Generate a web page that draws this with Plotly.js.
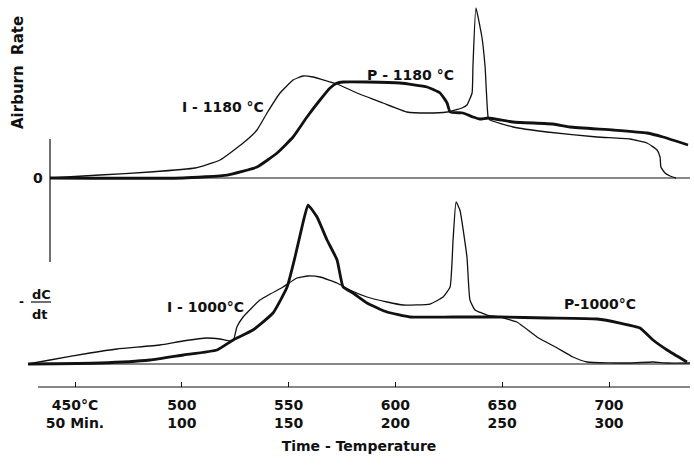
<!DOCTYPE html>
<html>
<head>
<meta charset="utf-8">
<script src="https://cdn.plot.ly/plotly-3.0.1.min.js"></script>
<style>html,body{margin:0;padding:0;background:#fff;}#chart{width:694px;height:465px;}</style>
</head>
<body>
<div id="chart"></div>
<script>
// Temperature (deg C) axis ticks and time labels
const tickTemps = [450, 500, 550, 600, 650, 700];
const tempLabels = ['450°C', '500', '550', '600', '650', '700'];
const timeLabels = ['50 Min.', '100', '150', '200', '250', '300'];

// Top panel: Airburn Rate (arbitrary units)
const iTopTemp = [438.3, 461.7, 485.1, 506.2, 517.9, 528.7, 535.2, 539.9, 546.0, 552.1, 556.7, 561.4, 568.0, 572.7, 582.0, 594.2, 605.4, 614.8, 624.2, 631.2, 633.5, 635.9, 636.3, 637.7, 640.5, 642.0, 643.4, 644.3, 655.1, 671.0, 694.4, 709.8, 717.8, 722.5, 723.9, 724.3, 726.2, 728.6, 731.4];
const iTopRate = [0, 3, 6, 10, 18, 35, 48, 65, 85, 98, 102, 101, 97, 94, 85, 75, 66, 65, 66, 70, 73, 85, 111, 170, 141, 111, 61, 58, 51, 46, 41, 39, 35, 28, 21, 11, 5, 2, 0];
const pTopTemp = [438.3, 500.6, 521.2, 535.2, 544.6, 552.1, 558.6, 564.7, 569.4, 572.7, 575.5, 586.7, 602.2, 614.8, 620.9, 624.2, 625.6, 631.6, 636.3, 639.6, 643.4, 655.1, 673.8, 681.7, 701.9, 717.8, 725.3, 737.0];
const pTopRate = [0, 0, 3, 11, 25, 41, 61, 78, 90, 95, 96, 96, 95, 91, 85, 75, 66, 65, 61, 59, 60, 56, 54, 51, 48, 45, 41, 33];

// Bottom panel: -dC/dt (arbitrary units)
const iBotTemp = [428.0, 438.3, 457.0, 469.7, 489.8, 500.6, 511.8, 517.9, 524.0, 525.8, 528.7, 536.6, 547.4, 553.9, 559.1, 564.7, 572.7, 578.7, 586.7, 596.1, 603.6, 616.2, 622.3, 625.6, 627.0, 628.4, 630.2, 633.5, 634.9, 637.3, 642.9, 649.0, 656.9, 666.3, 675.7, 683.1, 689.7, 709.8, 720.6, 727.2, 737.9];
const iBotRate = [0, 4, 11, 15, 19, 23, 26, 25, 23, 37, 47, 64, 77, 86, 88, 87, 81, 74, 67, 62, 59, 60, 67, 77, 124, 162, 154, 107, 64, 54, 49, 47, 42, 27, 16, 7, 2, 1, 2, 1, 1];
const pBotTemp = [428.0, 461.7, 485.1, 500.6, 516.5, 524.0, 533.3, 542.7, 549.3, 553.0, 556.7, 559.1, 563.3, 568.0, 572.7, 575.5, 580.1, 586.7, 596.1, 606.8, 627.0, 649.0, 671.0, 694.4, 705.1, 714.5, 720.6, 727.2, 736.5];
const pBotRate = [0, 1, 4, 9, 14, 24, 34, 51, 77, 107, 141, 159, 147, 124, 104, 77, 71, 61, 52, 47, 47, 47, 46, 45, 41, 36, 24, 14, 2];

const F = 'DejaVu Sans';
const ink = '#111';
const thin = {color: ink, width: 1.3, shape: 'spline', smoothing: 0.4};
const thick = {color: ink, width: 2.8, shape: 'spline', smoothing: 0.4};

const traces = [
  {x: iTopTemp, y: iTopRate, xaxis: 'x', yaxis: 'y', mode: 'lines', line: thin, name: 'I-1180 °C'},
  {x: pTopTemp, y: pTopRate, xaxis: 'x', yaxis: 'y', mode: 'lines', line: thick, name: 'P-1180 °C'},
  {x: iBotTemp, y: iBotRate, xaxis: 'x', yaxis: 'y2', mode: 'lines', line: thin, name: 'I-1000°C'},
  {x: pBotTemp, y: pBotRate, xaxis: 'x', yaxis: 'y2', mode: 'lines', line: thick, name: 'P-1000°C'}
];

const lbl = (size) => ({family: F, size: size, color: ink, weight: 'bold'});

const layout = {
  width: 694, height: 465,
  margin: {l: 26, r: 2, t: 0, b: 78},
  paper_bgcolor: '#fff', plot_bgcolor: '#fff',
  showlegend: false,
  xaxis: {
    range: [427.06, 738.86], anchor: 'free', position: 0,
    tickvals: tickTemps,
    ticktext: tempLabels.map((t, i) => t + '<br>' + timeLabels[i]),
    ticks: 'inside', ticklen: 5, tickwidth: 1, tickcolor: ink,
    showline: false, showgrid: false, zeroline: false,
    tickfont: lbl(14), ticklabelstandoff: 8,
    title: {text: 'Time - Temperature', font: lbl(14), standoff: 10}
  },
  yaxis: {domain: [0.5297, 1], range: [-4, 178], visible: false, anchor: 'x'},
  yaxis2: {domain: [0.0491, 0.509], range: [-4, 174], visible: false, anchor: 'x'},
  shapes: [
    {type: 'line', layer: 'below', xref: 'x', yref: 'paper', x0: 432.7, x1: 737.9, y0: 0, y1: 0, line: {color: ink, width: 1.2}},
    {type: 'line', layer: 'below', xref: 'x', yref: 'y', x0: 438.3, x1: 737.9, y0: 0, y1: 0, line: {color: ink, width: 1.2}},
    {type: 'line', layer: 'below', xref: 'x', yref: 'y2', x0: 428.0, x1: 737.9, y0: 0, y1: 0, line: {color: ink, width: 1.2}},
    {type: 'line', layer: 'below', xref: 'x', yref: 'paper', x0: 438.3, x1: 438.3, y0: 0.323, y1: 0.641, line: {color: ink, width: 1.2}},
    {type: 'line', xref: 'paper', yref: 'paper', x0: (31 - 26) / 666, x1: (51 - 26) / 666, y0: (387 - 302) / 387, y1: (387 - 302) / 387, line: {color: ink, width: 1.2}}
  ],
  annotations: [
    {text: 'Airburn  Rate', xref: 'paper', yref: 'paper', x: (18 - 26) / 666, y: (387 - 73) / 387, textangle: -90, showarrow: false, font: lbl(15), xanchor: 'center', yanchor: 'middle'},
    {text: '0', xref: 'paper', yref: 'paper', x: (38 - 26) / 666, y: (387 - 178) / 387, showarrow: false, font: lbl(14), xanchor: 'center', yanchor: 'middle'},
    {text: '-', xref: 'paper', yref: 'paper', x: (21 - 26) / 666, y: (387 - 302) / 387, showarrow: false, font: lbl(12), xanchor: 'center', yanchor: 'middle'},
    {text: 'dC', xref: 'paper', yref: 'paper', x: (41 - 26) / 666, y: (387 - 294) / 387, showarrow: false, font: lbl(13), xanchor: 'center', yanchor: 'middle'},
    {text: 'dt', xref: 'paper', yref: 'paper', x: (40 - 26) / 666, y: (387 - 314) / 387, showarrow: false, font: lbl(13), xanchor: 'center', yanchor: 'middle'},
    {text: 'I - 1180 °C', xref: 'paper', yref: 'paper', x: (223 - 26) / 666, y: (387 - 107) / 387, showarrow: false, font: lbl(14), xanchor: 'center', yanchor: 'middle'},
    {text: 'P - 1180 °C', xref: 'paper', yref: 'paper', x: (410 - 26) / 666, y: (387 - 75) / 387, showarrow: false, font: lbl(14), xanchor: 'center', yanchor: 'middle'},
    {text: 'I - 1000°C', xref: 'paper', yref: 'paper', x: (205 - 26) / 666, y: (387 - 307) / 387, showarrow: false, font: lbl(14), xanchor: 'center', yanchor: 'middle'},
    {text: 'P-1000°C', xref: 'paper', yref: 'paper', x: (600 - 26) / 666, y: (387 - 304) / 387, showarrow: false, font: lbl(14), xanchor: 'center', yanchor: 'middle'}
  ]
};

Plotly.newPlot('chart', traces, layout, {staticPlot: true, displayModeBar: false});
</script>
</body>
</html>
